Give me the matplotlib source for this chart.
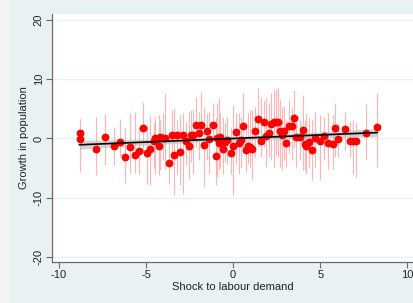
import numpy as np
import matplotlib
matplotlib.use("Agg")
import matplotlib.pyplot as plt
from matplotlib.patches import Rectangle

plt.rcParams['font.family'] = ['Liberation Sans', 'DejaVu Sans']

# shock to labour demand (x), growth in population (y), error bar ends
shock = [-8.82, -8.78, -7.88, -7.34, -6.83, -6.52, -6.2, -5.91, -5.63, -5.38,
         -5.15, -4.95, -4.76, -4.57, -4.47, -4.28, -4.19, -4.0, -3.92, -3.71,
         -3.52, -3.37, -3.2, -3.04, -2.89, -2.72, -2.55, -2.41, -2.28, -2.14,
         -1.97, -1.82, -1.66, -1.51, -1.36, -1.13, -1.01, -0.94, -0.84, -0.73,
         -0.61, -0.46, -0.33, -0.11, 0.0, 0.19, 0.31, 0.46, 0.57, 0.71,
         0.86, 0.99, 1.09, 1.24, 1.43, 1.59, 1.78, 1.91, 2.04, 2.2,
         2.33, 2.48, 2.6, 2.71, 2.83, 2.91, 3.06, 3.21, 3.37, 3.52,
         3.63, 3.82, 4.01, 4.15, 4.2, 4.36, 4.51, 4.68, 4.97, 5.2,
         5.45, 5.74, 5.84, 6.03, 6.4, 6.7, 6.89, 7.04, 7.61, 8.27]
growth = [-0.17, 0.85, -1.8, 0.3, -1.3, -0.56, -3.1, -1.4, -2.8, -2.1,
          1.7, -2.5, -1.7, -0.4, 0.0, -1.2, 0.3, 0.1, 0.0, -4.1,
          0.6, -2.8, 0.6, -2.3, 0.6, -0.4, -1.3, 0.6, 0.6, 2.3,
          1.0, 2.2, -1.1, 1.3, -0.1, 2.3, -2.9, 0.05, -0.85, 0.2,
          -1.75, -0.6, -0.3, -2.4, -1.3, 1.1, -0.85, -0.2, 2.1, -1.9,
          -1.2, -1.4, -1.75, 1.3, 3.3, -0.5, 2.8, 0.4, 1.0, 2.4,
          2.8, 2.8, 2.8, 1.25, 0.55, 1.25, -0.75, 2.1, 2.1, 3.45,
          0.3, 0.2, 1.4, -1.0, -1.2, -0.6, -2.0, 0.1, -0.5, 0.4,
          -0.85, -1.0, 1.75, -0.05, 1.65, -0.5, -0.5, -0.5, 0.85, 1.9]
ci_hi = [3.2, 3.2, 3.67, 4.07, 1.98, 3.22, 1.8, 4.35, 4.52, 1.98,
         6.21, 2.26, 3.95, 2.66, 3.67, 3.95, 3.1, 4.24, 7.46, -0.28,
         4.8, 5.08, 3.1, 3.95, 4.24, 2.82, 4.52, 4.8, 4.8, 7.06,
         4.52, 7.9, 5.37, 4.24, 4.52, 5.93, 3.39, 5.93, 6.78, 4.24,
         3.67, 2.82, 3.67, 1.98, 5.6, 4.24, 4.24, 3.67, 7.63, 2.54,
         4.24, 4.8, 4.8, 5.37, 8.47, 7.06, 6.5, 6.78, 5.93, 7.63,
         8.19, 8.3, 8.47, 6.5, 5.37, 5.48, 3.1, 6.5, 5.37, 8.19,
         3.67, 3.1, 7.34, 3.1, 4.24, 3.67, 3.1, 4.52, 3.95, 3.67,
         4.24, 3.95, 5.93, 2.54, 4.4, 2.82, 3.1, 2.82, 5.82, 7.63]
ci_lo = [-5.65, -5.65, -6.2, -4.46, -4.46, -3.1, -7.46, -5.93, -5.82, -5.93,
         -2.54, -7.63, -7.9, -4.8, -5.93, -6.2, -5.37, -3.67, -5.08, -7.63,
         -4.24, -9.6, -5.93, -7.9, -9.3, -4.52, -6.78, -3.95, -5.93, -1.41,
         -3.67, -0.28, -8.19, -3.67, -5.93, -0.28, -7.9, -6.5, -5.37, -4.8,
         -5.93, -3.95, -4.24, -5.93, -9.6, -4.24, -5.93, -4.8, -1.98, -5.65,
         -4.24, -4.8, -7.06, -3.1, -1.41, -3.1, -1.41, -4.8, -3.1, -3.67,
         -4.8, -2.82, -3.1, -4.8, -5.37, -3.67, -4.8, -2.54, -3.67, -1.69,
         -4.8, -3.67, -5.37, -5.37, -5.93, -4.8, -7.06, -4.8, -7.06, -3.67,
         -5.08, -5.08, -3.1, -3.1, -1.98, -3.1, -5.93, -6.5, -3.67, -4.8]

x = np.array(shock)
y = np.array(growth)

# linear fit with 95% confidence band
b, a = np.polyfit(x, y, 1)
n = len(x)
resid = y - (a + b * x)
s = np.sqrt(np.sum(resid ** 2) / (n - 2))
xx = np.linspace(x.min(), x.max(), 100)
yy = a + b * xx
se = s * np.sqrt(1.0 / n + (xx - x.mean()) ** 2 / np.sum((x - x.mean()) ** 2))

fig = plt.figure(figsize=(4.14, 3.03), dpi=100)
fig.patch.set_facecolor('#e9f1f3')
fig.patches.append(Rectangle((0, 0), 10 / 414, 1, transform=fig.transFigure,
                             facecolor='#f3f3f3', edgecolor='none', zorder=0))
ax = fig.add_axes([52 / 414, 1 - 262 / 303, 1 - 52 / 414, (262 - 14) / 303])
ax.set_facecolor('white')

for yt in [-20, -10, 0, 10, 20]:
    ax.axhline(yt, color='#eaf2f3', lw=1.0, zorder=0)

ax.vlines(x, ci_lo, ci_hi, color='#ffb4b4', lw=0.8, zorder=1)
ax.fill_between(xx, yy - 1.96 * se, yy + 1.96 * se, color='#b8b8b8', alpha=0.6,
                lw=0, zorder=2)
ax.plot(x, y, 'o', color='red', ms=4.6, mec='red', zorder=3)
ax.plot(xx, yy, color='black', lw=1.2, zorder=4)

ax.set_xlim(-10.4, 10.38)
ax.set_ylim(-20.85, 21.0)
ax.set_xticks([-10, -5, 0, 5, 10])
ax.set_yticks([-20, -10, 0, 10, 20])
ax.set_xticklabels(['-10', '-5', '0', '5', '10'])
ax.set_yticklabels(['-20', '-10', '0', '10', '20'], rotation=90, va='center')

for side in ['top', 'right']:
    ax.spines[side].set_visible(False)
for side in ['left', 'bottom']:
    ax.spines[side].set_color('#6a6a6a')
    ax.spines[side].set_linewidth(0.9)
ax.tick_params(colors='#6a6a6a', labelcolor='#222222', labelsize=8, length=4,
               width=0.8, pad=2)

ax.set_xlabel('Shock to labour demand', fontsize=8, color='#222222', labelpad=1)
ax.set_ylabel('Growth in population', fontsize=8, color='#222222', labelpad=3)

fig.savefig('out.png', dpi=100, facecolor=fig.get_facecolor())
